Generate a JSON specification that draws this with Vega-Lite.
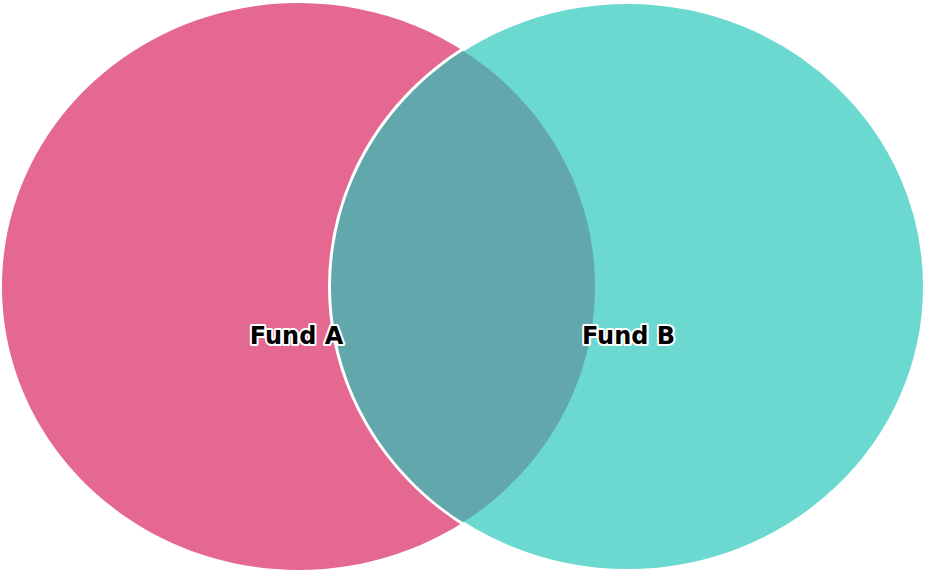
{
  "$schema": "https://vega.github.io/schema/vega-lite/v6.json",
  "width": 926,
  "height": 573,
  "padding": 0,
  "autosize": {"type": "none"},
  "background": "white",
  "config": {"view": {"stroke": null}},
  "datasets": {
    "sets": [
      {"sets": "Fund A", "cx": 298.5, "cy": 286.5, "lx": 296.5, "ly": 336.5},
      {"sets": "Fund B", "cx": 627.5, "cy": 286.5, "lx": 628.5, "ly": 336.5},
      {"sets": "Fund A ∩ Fund B", "cx": 463, "cy": 286.5, "lx": null, "ly": null}
    ]
  },
  "data": {"name": "sets"},
  "encoding": {
    "x": {"field": "cx", "type": "quantitative", "scale": {"domain": [0, 926]}, "axis": null},
    "y": {"field": "cy", "type": "quantitative", "scale": {"domain": [0, 573], "reverse": true}, "axis": null}
  },
  "layer": [
    {
      "transform": [{"filter": "datum.sets !== 'Fund A ∩ Fund B'"}],
      "mark": {"type": "point", "filled": true, "opacity": 1, "stroke": "white", "size": 321489},
      "encoding": {
        "shape": {"field": "sets", "type": "nominal", "legend": null,
          "scale": {"domain": ["Fund A", "Fund B"], "range": [
            "M 1.0459 0 C 1.0459 0.5523 0.5776 1 0 1 C -0.5776 1 -1.0459 0.5523 -1.0459 0 C -1.0459 -0.5523 -0.5776 -1 0 -1 C 0.5776 -1 1.0459 -0.5523 1.0459 0 Z",
            "M 1.0494 0 C 1.0494 0.5523 0.5796 1.0035 0 1.0035 C -0.5796 1.0035 -1.0494 0.5523 -1.0494 0 C -1.0494 -0.5523 -0.5796 -1.0035 0 -1.0035 C 0.5796 -1.0035 1.0494 -0.5523 1.0494 0 Z"
          ]}},
        "strokeWidth": {"field": "sets", "type": "nominal", "legend": null,
          "scale": {"type": "ordinal", "domain": ["Fund A", "Fund B"], "range": [0, 4]}},
        "color": {"field": "sets", "type": "nominal", "legend": null,
          "scale": {"domain": ["Fund A", "Fund B"], "range": ["#e4688f", "#6bd9cf"]}}
      }
    },
    {
      "transform": [{"filter": "datum.sets === 'Fund A ∩ Fund B'"}],
      "mark": {"type": "point", "filled": true, "opacity": 1, "fill": "#62a7ab", "strokeWidth": 0, "size": 321489,
        "shape": "M 0 -0.832 C -0.2909 -0.6465 -0.4656 -0.3343 -0.4656 0 C -0.4656 0.3343 -0.2909 0.6465 0 0.832 C 0.2909 0.6465 0.4656 0.3343 0.4656 0 C 0.4656 -0.3343 0.2909 -0.6465 0 -0.832 Z"}
    },
    {
      "transform": [{"filter": "datum.lx != null"}],
      "mark": {"type": "text", "font": "DejaVu Sans", "fontSize": 24, "fontWeight": "bold", "align": "center", "baseline": "middle",
        "fill": "white", "stroke": "white", "strokeWidth": 4, "strokeJoin": "round"},
      "encoding": {
        "x": {"field": "lx", "type": "quantitative"},
        "y": {"field": "ly", "type": "quantitative"},
        "text": {"field": "sets"}
      }
    },
    {
      "transform": [{"filter": "datum.lx != null"}],
      "mark": {"type": "text", "font": "DejaVu Sans", "fontSize": 24, "fontWeight": "bold", "align": "center", "baseline": "middle", "fill": "black"},
      "encoding": {
        "x": {"field": "lx", "type": "quantitative"},
        "y": {"field": "ly", "type": "quantitative"},
        "text": {"field": "sets"}
      }
    }
  ]
}
